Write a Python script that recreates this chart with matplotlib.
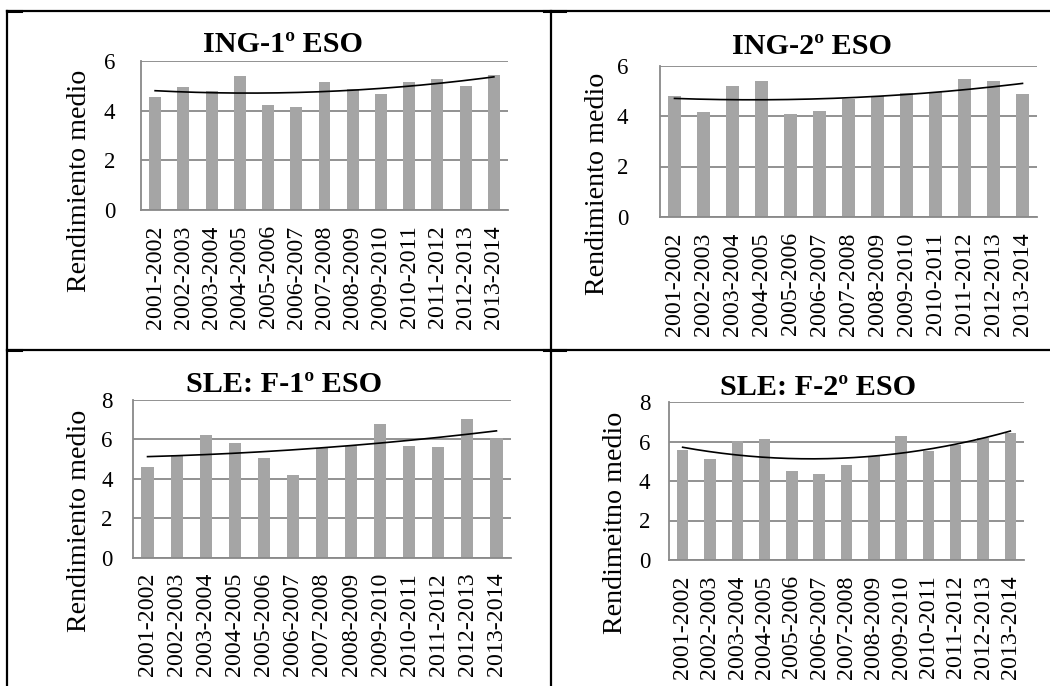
import numpy as np
import matplotlib.pyplot as plt

W, H = 1050, 686

cursos = [
    "2001-2002", "2002-2003", "2003-2004", "2004-2005", "2005-2006",
    "2006-2007", "2007-2008", "2008-2009", "2009-2010", "2010-2011",
    "2011-2012", "2012-2013", "2013-2014",
]

ing_1 = [4.54, 4.95, 4.79, 5.38, 4.21, 4.15, 5.16, 4.88, 4.68, 5.16, 5.28, 4.99, 5.42]
ing_2 = [4.78, 4.14, 5.17, 5.38, 4.06, 4.18, 4.68, 4.79, 4.92, 4.95, 5.46, 5.37, 4.89]
sle_1 = [4.61, 5.22, 6.22, 5.80, 5.05, 4.19, 5.58, 5.68, 6.78, 5.64, 5.61, 7.03, 6.07]
sle_2 = [5.55, 5.13, 6.01, 6.11, 4.50, 4.36, 4.82, 5.27, 6.29, 5.50, 5.84, 6.17, 6.43]

titles = ["ING-1º ESO", "ING-2º ESO", "SLE: F-1º ESO", "SLE: F-2º ESO"]
ylabels = ["Rendimiento medio", "Rendimiento medio", "Rendimiento medio", "Rendimeitno medio"]
ymax = [6, 6, 8, 8]

BAR = "#a5a5a5"
GRID = "#898989"

plt.rcParams["font.family"] = ["Liberation Serif", "DejaVu Serif"]


def px(x, y):
    return x / W, 1 - y / H


def draw_panel(fig, box, vals, title, ylabel, top, ypad, title_xy, ylab_xy):
    # box = (left, top, right, bottom) in pixels
    l, t, r, b = box
    ax = fig.add_axes([l / W, 1 - b / H, (r - l) / W, (b - t) / H])
    x = np.arange(len(vals))
    ax.bar(x, vals, width=0.42, color=BAR, zorder=2)

    # excel-style 2nd order polynomial trendline
    coef = np.polyfit(x, vals, 2)
    xs = np.linspace(x[0], x[-1], 200)
    ax.plot(xs, np.polyval(coef, xs), color="black", lw=1.2, zorder=3)

    ax.set_xlim(-0.5, len(vals) - 0.5)
    ax.set_ylim(0, top)
    ax.set_yticks(np.arange(0, top + 1, 2))
    ax.set_xticks(x)
    ax.set_xticklabels(cursos, rotation=90, fontsize=17.2)
    ax.tick_params(axis="y", length=0, pad=ypad, labelsize=16.5)
    ax.tick_params(axis="x", length=0, pad=11)
    ax.grid(axis="y", color=GRID, lw=1.3, zorder=1)
    for s in ["top", "right"]:
        ax.spines[s].set_visible(False)
    for s in ["left", "bottom"]:
        ax.spines[s].set_color(GRID)
        ax.spines[s].set_linewidth(1.3)

    fig.text(*px(*title_xy), title, fontsize=21.7, fontweight="bold",
             ha="center", va="center")
    fig.text(*px(*ylab_xy), ylabel, fontsize=20.2, rotation=90,
             ha="center", va="center")


fig = plt.figure(figsize=(W / 100, H / 100), dpi=100)

# table borders behind the charts
bg = fig.add_axes([0, 0, 1, 1])
bg.set_xlim(0, W)
bg.set_ylim(H, 0)
bg.axis("off")
bg.plot([7, 7], [11, H], color="black", lw=1.6)
bg.plot([551, 551], [11, H], color="black", lw=1.6)
bg.plot([7, W], [11, 11], color="black", lw=1.6)
bg.plot([7, W], [350, 350], color="black", lw=1.6)
for cx, cy in [(7, 11), (551, 11), (7, 350), (551, 350)]:
    bg.plot([max(cx - 7, 7), cx + 14], [cy, cy], color="black", lw=2.2)

draw_panel(fig, (141, 61, 508, 210), ing_1, titles[0], ylabels[0], ymax[0],
           18.5, (283, 45), (80, 181))
draw_panel(fig, (660, 65.5, 1037, 217), ing_2, titles[1], ylabels[1], ymax[1],
           23, (812, 47), (597, 184))
draw_panel(fig, (133, 400, 511, 557.5), sle_1, titles[2], ylabels[2], ymax[2],
           14.5, (284, 385), (80, 521))
draw_panel(fig, (669, 402, 1024, 560), sle_2, titles[3], ylabels[3], ymax[3],
           13.5, (818, 387), (615, 523))

fig.savefig("out.png", dpi=100)
